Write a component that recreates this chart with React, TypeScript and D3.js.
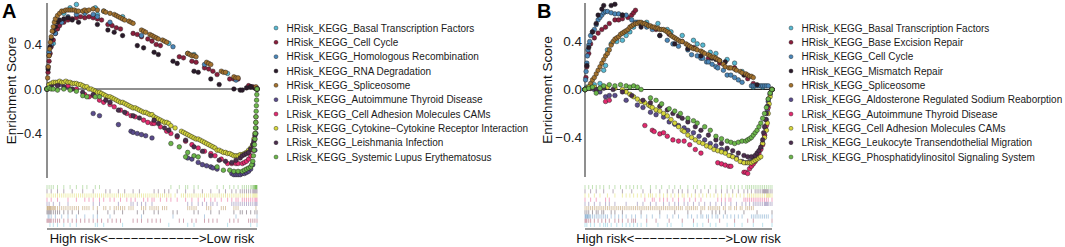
import React from "react";
import * as d3 from "d3";

type P = [number, number];

const palette = [
  "#57B9D2", "#8A1E3C", "#4A86B8", "#2A1A2A", "#A3722E",
  "#5A4C8C", "#E22A6E", "#D6D63C", "#4C2E4E", "#6CB64A",
];

const namesA = [
  "HRisk_KEGG_Basal Transcription Factors",
  "HRisk_KEGG_Cell Cycle",
  "HRisk_KEGG_Homologous Recombination",
  "HRisk_KEGG_RNA Degradation",
  "HRisk_KEGG_Spliceosome",
  "LRisk_KEGG_Autoimmune Thyroid Disease",
  "LRisk_KEGG_Cell Adhesion Molecules CAMs",
  "LRisk_KEGG_Cytokine\u2212Cytokine Receptor Interaction",
  "LRisk_KEGG_Leishmania Infection",
  "LRisk_KEGG_Systemic Lupus Erythematosus",
];

const namesB = [
  "HRisk_KEGG_Basal Transcription Factors",
  "HRisk_KEGG_Base Excision Repair",
  "HRisk_KEGG_Cell Cycle",
  "HRisk_KEGG_Mismatch Repair",
  "HRisk_KEGG_Spliceosome",
  "LRisk_KEGG_Aldosterone Regulated Sodium Reaborption",
  "LRisk_KEGG_Autoimmune Thyroid Disease",
  "LRisk_KEGG_Cell Adhesion Molecules CAMs",
  "LRisk_KEGG_Leukocyte Transendothelial Migration",
  "LRisk_KEGG_Phosphatidylinositol Signaling System",
];

const esTicks = [-0.4, 0, 0.4];
const axisCaption = "High risk<\u2212\u2212\u2212\u2212\u2212\u2212\u2212\u2212\u2212\u2212\u2212\u2212>Low risk";

// ---------- Panel A (rank position in %, enrichment score) ----------
const A_basal: P[] = [[1.4,0.37],[3,0.41],[5,0.55],[8,0.68],[11,0.73],[14,0.76],[23,0.73],[24,0.67],[27,0.7],[36,0.65],[58,0.41],[67,0.32],[70,0.31],[86,0.14],[97,0.02],[100,0]];
const A_cellcycle: P[] = [[0,0],[0.5,0.15],[1,0.25],[1.5,0.32],[2,0.38],[3,0.44],[4,0.5],[5,0.54],[6,0.57],[8,0.6],[10,0.62],[12,0.63],[14,0.64],[16,0.65],[18,0.64],[20,0.65],[22,0.64],[24,0.63],[26,0.62],[29,0.58],[31,0.57],[33,0.55],[35,0.54],[41,0.5],[43,0.49],[45,0.47],[48,0.45],[50,0.43],[52,0.4],[54,0.39],[63,0.29],[65,0.28],[69,0.25],[71,0.24],[75,0.19],[77,0.18],[79,0.16],[81,0.13],[87,0.09],[89,0.09],[91,0.09],[96,0.03],[97,0.02],[98,0.02],[99,0.01],[100,0]];
const A_homrec: P[] = [[0.5,0.2],[1,0.33],[2,0.4],[4,0.5],[7,0.6],[10,0.65],[14,0.67],[18,0.68],[22,0.67],[24,0.65],[30,0.6],[45,0.48],[60,0.38],[75,0.22],[90,0.08],[100,0]];
const A_rnadeg: P[] = [[0,0],[0.5,0.18],[1,0.3],[1.5,0.38],[2,0.45],[3,0.52],[4,0.56],[5,0.6],[6,0.62],[8,0.63],[10,0.64],[12,0.62],[15,0.6],[24,0.58],[29,0.53],[32,0.51],[36,0.48],[43,0.39],[46,0.37],[51,0.33],[53,0.31],[60,0.25],[62,0.23],[70,0.16],[72,0.15],[78,0.09],[82,0.04],[89,0],[92,-0.01],[93,-0.01],[95,0.01],[97,0.02],[99,0.01],[100,0]];
const A_splice: P[] = [[0,0],[0.3,0.1],[0.6,0.2],[1,0.3],[1.3,0.36],[1.6,0.42],[2,0.47],[2.5,0.52],[3,0.56],[3.5,0.6],[4,0.63],[5,0.66],[6,0.68],[7,0.7],[8,0.7],[9,0.71],[10,0.71],[11,0.71],[12,0.71],[13,0.71],[14,0.7],[15,0.7],[17,0.7],[18,0.71],[19,0.7],[20,0.71],[22,0.72],[24,0.71],[27,0.7],[28,0.69],[30,0.68],[32,0.67],[33,0.66],[34,0.65],[35,0.64],[36,0.63],[37,0.62],[39,0.61],[40,0.6],[41,0.59],[45,0.53],[46,0.52],[47,0.51],[49,0.49],[50,0.48],[51,0.47],[52,0.46],[53,0.45],[55,0.44],[56,0.43],[57,0.42],[67,0.32],[68,0.31],[69,0.3],[70,0.3],[71,0.29],[76,0.24],[77,0.23],[78,0.22],[83,0.16],[84,0.15],[85,0.15],[89,0.11],[90,0.1],[91,0.1],[99.5,0.02]];
const A_autoimm: P[] = [[0,0],[1,0.04],[3,0.05],[6,0.04],[10,0.02],[22,-0.22],[25,-0.24],[34,-0.32],[40,-0.38],[41,-0.39],[43,-0.4],[45,-0.41],[47,-0.42],[50,-0.44],[67,-0.62],[69,-0.63],[72,-0.66],[74,-0.68],[76,-0.69],[78,-0.7],[79,-0.71],[81,-0.72],[88,-0.76],[89,-0.77],[90,-0.77],[91,-0.77],[92,-0.77],[93,-0.76],[94,-0.76],[95,-0.75],[96,-0.74],[97,-0.72],[98,-0.68],[99,-0.55],[99.5,-0.4],[100,0]];
const A_cams: P[] = [[0,0],[2,0.03],[5,0.04],[10,0.03],[14,0],[18,-0.05],[20,-0.07],[22,-0.06],[25,-0.1],[27,-0.12],[30,-0.14],[32,-0.16],[35,-0.19],[38,-0.22],[40,-0.24],[42,-0.25],[46,-0.28],[48,-0.3],[50,-0.31],[51,-0.31],[54,-0.34],[57,-0.38],[59,-0.4],[62,-0.43],[66,-0.47],[69,-0.5],[72,-0.53],[75,-0.56],[78,-0.58],[80,-0.6],[83,-0.63],[86,-0.67],[88,-0.67],[90,-0.67],[91,-0.67],[93,-0.67],[94,-0.66],[95,-0.65],[96,-0.63],[97,-0.6],[98,-0.55],[99,-0.45],[99.5,-0.25],[100,0]];
const A_cytokine: P[] = [[0,0],[1,0.04],[2,0.05],[3,0.06],[4,0.06],[5,0.06],[6,0.07],[7,0.06],[8,0.06],[9,0.07],[10,0.06],[11,0.06],[12,0.05],[13,0.05],[14,0.05],[15,0.04],[16,0.04],[17,0.03],[18,0.02],[19,0.02],[20,0],[21,0],[22,-0.01],[23,-0.02],[24,-0.03],[25,-0.03],[26,-0.04],[27,-0.05],[28,-0.06],[29,-0.07],[30,-0.07],[31,-0.08],[32,-0.09],[33,-0.1],[34,-0.11],[35,-0.12],[36,-0.12],[37,-0.13],[38,-0.14],[39,-0.15],[40,-0.16],[41,-0.17],[42,-0.17],[43,-0.18],[44,-0.19],[45,-0.2],[46,-0.21],[47,-0.21],[48,-0.22],[49,-0.23],[50,-0.23],[51,-0.25],[52,-0.26],[53,-0.27],[54,-0.28],[55,-0.29],[56,-0.3],[57,-0.3],[58,-0.31],[59,-0.33],[61,-0.35],[64,-0.38],[65,-0.39],[66,-0.4],[67,-0.41],[68,-0.42],[69,-0.43],[70,-0.44],[71,-0.45],[72,-0.45],[73,-0.46],[74,-0.47],[75,-0.48],[76,-0.49],[77,-0.5],[78,-0.51],[79,-0.52],[80,-0.53],[81,-0.55],[82,-0.55],[83,-0.56],[84,-0.57],[85,-0.57],[86,-0.58],[87,-0.58],[88,-0.59],[89,-0.6],[90,-0.6],[91,-0.6],[92,-0.59],[93,-0.59],[94,-0.58],[95,-0.57],[96,-0.55],[97,-0.53],[98,-0.5],[98.5,-0.45],[99,-0.4],[99.5,-0.3],[100,0]];
const A_leish: P[] = [[0,0],[2,0.02],[5,0.03],[8,0.02],[12,0],[17,-0.03],[22,-0.05],[28,-0.1],[30,-0.12],[34,-0.19],[37,-0.21],[41,-0.24],[44,-0.26],[51,-0.28],[53,-0.31],[56,-0.35],[58,-0.37],[62,-0.42],[66,-0.46],[70,-0.52],[74,-0.56],[78,-0.6],[82,-0.64],[85,-0.65],[88,-0.66],[90,-0.64],[92,-0.62],[93,-0.6],[94,-0.59],[95,-0.58],[96,-0.57],[97,-0.54],[98,-0.5],[98.5,-0.47],[99,-0.42],[99.5,-0.35],[100,0]];
const A_lupus: P[] = [[0,0],[1,0.01],[2,0],[3,0],[5,-0.01],[8,0],[11,-0.01],[14,-0.02],[17,-0.06],[19,-0.07],[23,-0.07],[25,-0.07],[59,-0.49],[63,-0.52],[66,-0.61],[67,-0.57],[70,-0.6],[72,-0.61],[81,-0.7],[84,-0.73],[87,-0.73],[89,-0.74],[91,-0.74],[93,-0.74],[94,-0.73],[95,-0.72],[96,-0.71],[97,-0.7],[97.5,-0.68],[98,-0.65],[98.3,-0.6],[98.6,-0.55],[98.8,-0.5],[99,-0.45],[99.2,-0.4],[99.3,-0.35],[99.4,-0.3],[99.5,-0.25],[99.6,-0.2],[99.7,-0.15],[99.8,-0.1],[99.9,-0.05],[100,0]];

// ---------- Panel B ----------
const B_basal: P[] = [[0,0],[1,0.02],[3,0.03],[5,0.04],[8,0.05],[10,0.16],[11,0.2],[12,0.33],[14,0.38],[17,0.4],[20,0.41],[22,0.45],[24,0.48],[26,0.52],[28,0.56],[30,0.55],[33,0.56],[39,0.55],[44,0.5],[46,0.48],[52,0.45],[58,0.41],[60,0.38],[63,0.37],[67,0.31],[70,0.3],[76,0.25],[80,0.22],[84,0.15],[90,0.02],[95,0.02],[100,0]];
const B_ber: P[] = [[0,0],[0.5,0.1],[1,0.19],[2,0.3],[3,0.38],[5,0.43],[7,0.47],[9,0.5],[11,0.52],[13,0.55],[16,0.58],[18,0.58],[20,0.59],[23,0.6],[25,0.62],[26,0.64],[27,0.66],[33,0.54],[38,0.5],[45,0.46],[52,0.4],[58,0.35],[66,0.26],[72,0.22],[80,0.18],[87,0.09],[90,0.05],[100,0]];
const B_cellcycle: P[] = [[0,0],[0.3,0.08],[0.6,0.15],[1,0.22],[1.3,0.28],[1.6,0.33],[2,0.37],[2.5,0.4],[3,0.45],[4,0.48],[5,0.5],[6,0.54],[7,0.58],[8,0.6],[9,0.62],[10,0.64],[11,0.65],[12,0.65],[14,0.64],[16,0.63],[18,0.63],[20,0.62],[22,0.62],[25,0.58],[27,0.56],[30,0.54],[33,0.52],[36,0.5],[40,0.45],[44,0.41],[47,0.38],[50,0.36],[55,0.33],[57,0.29],[60,0.28],[62,0.26],[63,0.26],[65,0.23],[66,0.23],[68,0.21],[70,0.19],[71,0.18],[74,0.16],[76,0.12],[78,0.12],[80,0.1],[82,0.08],[84,0.06],[89,0.03],[90,0.03],[91,0.03],[92,0.03],[93,0.03],[94,0.03],[95,0.03],[96,0.03],[97,0.03],[98,0.03],[100,0]];
const B_mismatch: P[] = [[0,0],[1,0.2],[2,0.35],[4,0.48],[6,0.55],[7,0.62],[9,0.67],[10,0.7],[14,0.7],[16,0.71],[20,0.62],[30,0.52],[40,0.45],[48,0.38],[55,0.34],[62,0.28],[68,0.26],[70,0.25],[72,0.24],[75,0.23],[85,0.12],[92,0.04],[100,0]];
const B_splice: P[] = [[0,0],[1,0.01],[2,0.02],[3,0.05],[4,0.08],[5,0.1],[6,0.13],[7,0.16],[8,0.19],[9,0.22],[10,0.25],[11,0.28],[12,0.3],[13,0.33],[14,0.37],[15,0.4],[16,0.42],[17,0.43],[18,0.44],[19,0.46],[20,0.47],[21,0.48],[22,0.49],[23,0.5],[24,0.52],[25,0.53],[26,0.54],[27,0.55],[28,0.55],[29,0.56],[30,0.56],[31,0.55],[32,0.55],[33,0.54],[34,0.53],[35,0.53],[36,0.52],[37,0.52],[38,0.51],[39,0.51],[40,0.5],[41,0.5],[42,0.5],[43,0.49],[44,0.48],[45,0.47],[46,0.45],[47,0.44],[48,0.43],[49,0.42],[50,0.41],[51,0.4],[52,0.4],[54,0.38],[55,0.37],[56,0.36],[57,0.35],[58,0.34],[59,0.34],[60,0.33],[62,0.32],[63,0.31],[64,0.3],[66,0.29],[67,0.28],[68,0.27],[69,0.27],[70,0.26],[71,0.25],[72,0.24],[74,0.21],[75,0.19],[77,0.18],[78,0.18],[80,0.17],[81,0.16],[83,0.15],[84,0.14],[86,0.13],[87,0.12],[88,0.11],[89,0.11],[90,0.1]];
const B_aldo: P[] = [[0,0],[2,0.01],[5,0],[8,-0.02],[11,-0.06],[13,-0.05],[16,-0.05],[22,-0.09],[28,-0.13],[31,-0.15],[35,-0.19],[38,-0.21],[42,-0.23],[45,-0.27],[48,-0.29],[50,-0.3],[53,-0.32],[55,-0.34],[58,-0.36],[61,-0.39],[64,-0.42],[67,-0.45],[70,-0.47],[73,-0.5],[75,-0.52],[78,-0.55],[81,-0.57],[84,-0.6],[86,-0.61],[88,-0.6],[90,-0.58],[91,-0.56],[92,-0.54],[93,-0.52],[94,-0.49],[95,-0.45],[96,-0.38],[96.5,-0.32],[97,-0.25],[97.5,-0.17],[98,-0.1],[99,-0.04],[100,0]];
const B_autoimm: P[] = [[0,0],[3,0.01],[6,0],[11,-0.1],[13,-0.09],[32,-0.3],[36,-0.34],[37,-0.35],[40,-0.37],[42,-0.36],[44,-0.39],[47,-0.42],[50,-0.43],[53,-0.43],[56,-0.46],[59,-0.5],[62,-0.53],[71,-0.61],[73,-0.62],[75,-0.63],[77,-0.64],[78,-0.64],[85,-0.69],[86,-0.69],[87,-0.7],[88,-0.66],[89,-0.64],[90,-0.62],[91,-0.6],[92,-0.56],[93,-0.53],[94,-0.5],[95,-0.46],[96,-0.38],[97,-0.3],[98,-0.15],[100,0]];
const B_cams: P[] = [[0,0],[2,0.02],[5,0.02],[8,0.01],[12,0.02],[16,0.01],[20,0],[22,-0.02],[24,-0.04],[26,-0.06],[28,-0.08],[30,-0.1],[32,-0.11],[34,-0.13],[35,-0.14],[36,-0.15],[38,-0.17],[40,-0.18],[42,-0.2],[44,-0.22],[46,-0.25],[48,-0.28],[50,-0.31],[52,-0.34],[53,-0.35],[55,-0.38],[57,-0.4],[59,-0.42],[61,-0.44],[63,-0.45],[65,-0.47],[67,-0.48],[69,-0.5],[71,-0.51],[73,-0.52],[75,-0.53],[77,-0.55],[79,-0.56],[81,-0.58],[83,-0.6],[85,-0.61],[87,-0.61],[88,-0.61],[89,-0.61],[90,-0.6],[91,-0.59],[92,-0.58],[93,-0.57],[94,-0.56],[95,-0.45],[96,-0.4],[97,-0.34],[97.5,-0.28],[98,-0.2],[98.5,-0.12],[99,-0.06],[100,0]];
const B_leuko: P[] = [[0,0],[3,0.01],[6,0],[10,0.01],[15,0],[20,-0.02],[25,-0.05],[31,-0.09],[35,-0.11],[40,-0.14],[44,-0.17],[47,-0.2],[50,-0.22],[52,-0.24],[55,-0.27],[59,-0.31],[62,-0.34],[66,-0.38],[70,-0.42],[73,-0.45],[76,-0.49],[79,-0.51],[82,-0.53],[85,-0.55],[87,-0.56],[89,-0.56],[91,-0.55],[92,-0.53],[93,-0.51],[94,-0.48],[95,-0.42],[95.5,-0.36],[96,-0.31],[96.5,-0.25],[97,-0.2],[97.5,-0.14],[98,-0.08],[99,-0.03],[100,0]];
const B_pi3k: P[] = [[0,0],[2,0.01],[4,0.02],[6,-0.03],[8,0.01],[10,0.03],[13,0.04],[16,0.03],[19,0.04],[22,0.03],[24,0.02],[26,0.03],[28,0.02],[30,0],[35,-0.07],[38,-0.09],[41,-0.12],[45,-0.16],[48,-0.18],[51,-0.2],[55,-0.24],[58,-0.26],[60,-0.28],[64,-0.31],[67,-0.34],[70,-0.39],[73,-0.41],[76,-0.43],[78,-0.44],[80,-0.45],[82,-0.44],[84,-0.43],[86,-0.43],[87,-0.42],[88,-0.41],[89,-0.4],[90,-0.38],[91,-0.36],[92,-0.34],[93,-0.31],[94,-0.28],[95,-0.24],[96,-0.2],[97,-0.15],[98,-0.08],[99,-0.03],[100,0]];

const seriesA = [A_basal, A_cellcycle, A_homrec, A_rnadeg, A_splice, A_autoimm, A_cams, A_cytokine, A_leish, A_lupus];
const seriesB = [B_basal, B_ber, B_cellcycle, B_mismatch, B_splice, B_aldo, B_autoimm, B_cams, B_leuko, B_pi3k];

const FONT = "'Liberation Sans', Arial, Helvetica, sans-serif";

type PanelProps = {
  letter: string;
  letterX: number;
  names: string[];
  series: P[][];
  x0: number;
  x1: number;
  yTop: number;
  yBottom: number;
  zeroY: number;
  pxPerUnit: number;
  legendX: number;
  legendFont: number;
  ylabX: number;
  tickGap: number;
  tickFont: number;
};

function Panel(p: PanelProps) {
  const x = d3.scaleLinear().domain([0, 100]).range([p.x0, p.x1]);
  const y = d3
    .scaleLinear()
    .domain([(p.zeroY - p.yBottom) / p.pxPerUnit, (p.zeroY - p.yTop) / p.pxPerUnit])
    .range([p.yBottom, p.yTop]);
  const fmt = d3.format(".1f");
  const rugTop = 185;
  const rugBottom = 227;
  const rows = d3
    .scaleBand<number>()
    .domain(d3.range(p.series.length).reverse())
    .range([rugTop, rugBottom]);
  const legendY = d3.scalePoint<number>().domain(d3.range(p.names.length)).range([28, 157]);
  const midX = (p.x0 + p.x1) / 2;

  return (
    <g>
      <text x={p.letterX} y={18} fontFamily={FONT} fontWeight="bold" fontSize={20} fill="#000">
        {p.letter}
      </text>
      <line x1={p.x0} x2={p.x0} y1={p.yTop} y2={p.yBottom} stroke="#333" strokeWidth={1.1} />
      {esTicks.map((t) => (
        <text
          key={t}
          x={p.x0 - p.tickGap}
          y={y(t)}
          textAnchor="end"
          dominantBaseline="central"
          fontFamily={FONT}
          fontSize={p.tickFont}
          fill="#222"
        >
          {fmt(t)}
        </text>
      ))}
      <text
        transform={`translate(${p.ylabX},${(p.yTop + p.yBottom) / 2}) rotate(-90)`}
        textAnchor="middle"
        dominantBaseline="central"
        fontFamily={FONT}
        fontSize={13.5}
        fill="#111"
      >
        Enrichment Score
      </text>
      <line x1={p.x0} x2={p.x1} y1={y(0)} y2={y(0)} stroke="#222" strokeWidth={1.1} />
      {p.series.map((s, i) => (
        <g key={i}>
          {s.map((d, j) => (
            <circle
              key={j}
              cx={x(d[0])}
              cy={y(d[1])}
              r={2.3}
              fill={palette[i]}
              stroke="#1a1a1a"
              strokeWidth={0.45}
            />
          ))}
        </g>
      ))}
      {p.series.map((s, i) => (
        <g key={"r" + i}>
          {s.map((d, j) => (
            <line
              key={j}
              x1={x(d[0])}
              x2={x(d[0])}
              y1={rows(i)!}
              y2={rows(i)! + rows.bandwidth()}
              stroke={palette[i]}
              strokeOpacity={0.4}
              strokeWidth={1}
            />
          ))}
        </g>
      ))}
      <line x1={p.x0} x2={p.x1} y1={229} y2={229} stroke="#777" strokeWidth={1.6} />
      <text x={midX} y={243} textAnchor="middle" fontFamily={FONT} fontSize={13} fill="#111">
        {axisCaption}
      </text>
      {p.names.map((n, i) => (
        <g key={"l" + i}>
          <circle
            cx={p.legendX}
            cy={legendY(i)!}
            r={2}
            fill={palette[i]}
            stroke="#1a1a1a"
            strokeWidth={0.4}
          />
          <text
            x={p.legendX + 10.5}
            y={legendY(i)!}
            dominantBaseline="central"
            fontFamily={FONT}
            fontSize={p.legendFont}
            fill="#1a1a1a"
          >
            {n}
          </text>
        </g>
      ))}
    </g>
  );
}

export default function App() {
  return (
    <div style={{ position: "absolute", left: 0, top: 0 }}>
      <svg width={1065} height={247} style={{ display: "block", background: "#fff" }}>
        <Panel
          letter="A"
          letterX={2}
          names={namesA}
          series={seriesA}
          x0={47}
          x1={257}
          yTop={3}
          yBottom={178}
          zeroY={89}
          pxPerUnit={111.25}
          legendX={276}
          legendFont={10}
          ylabX={11}
          tickGap={5}
          tickFont={13}
        />
        <Panel
          letter="B"
          letterX={537}
          names={namesB}
          series={seriesB}
          x0={585}
          x1={772}
          yTop={3}
          yBottom={177}
          zeroY={89.5}
          pxPerUnit={120}
          legendX={791}
          legendFont={10}
          ylabX={547}
          tickGap={3}
          tickFont={13.5}
        />
      </svg>
    </div>
  );
}
